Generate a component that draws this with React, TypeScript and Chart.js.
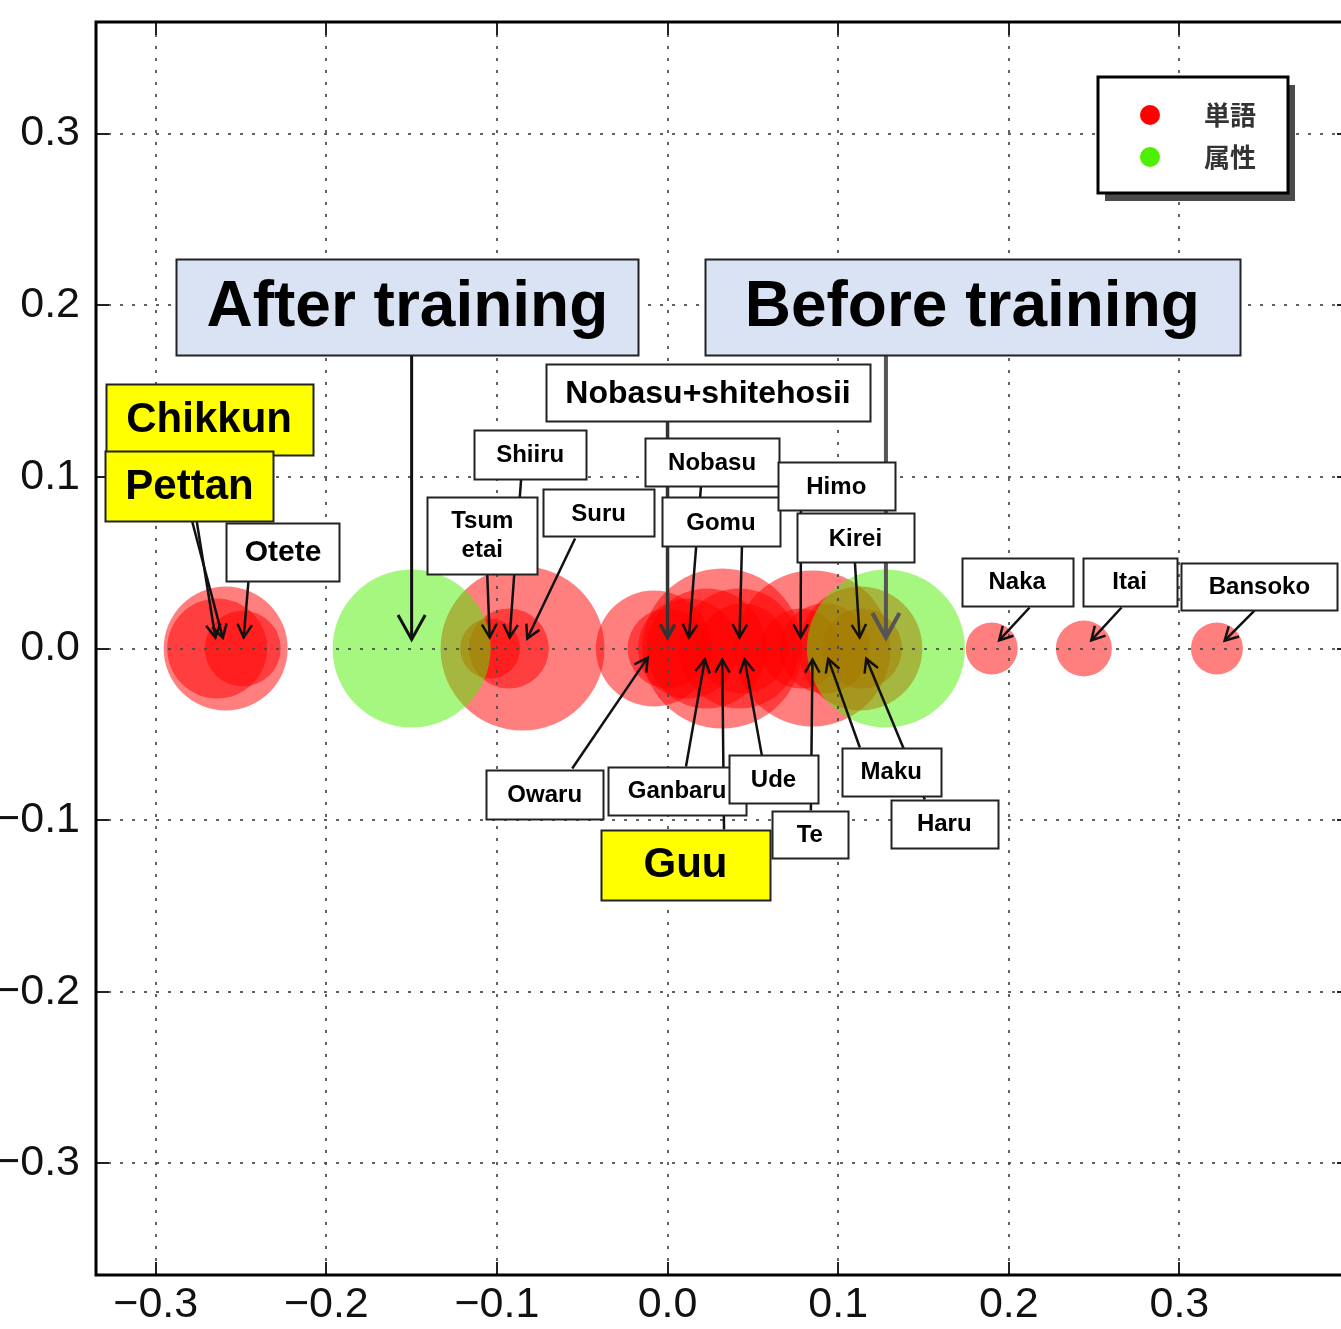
import React, { useEffect, useRef } from 'react';
import { Chart, registerables } from 'chart.js';

Chart.register(...registerables);

// ---------- data ----------
const xTicks = [-0.3, -0.2, -0.1, 0.0, 0.1, 0.2, 0.3];
const yTicks = [-0.3, -0.2, -0.1, 0.0, 0.1, 0.2, 0.3];

const seriesNames = ['単語', '属性'];

const wordLabels = [
  'Chikkun', 'Pettan', 'Otete', 'Tsumetai', 'Shiiru', 'Suru', 'Owaru',
  'Nobasu+shitehosii', 'Nobasu', 'Ganbaru', 'Guu', 'Gomu', 'Ude', 'Himo',
  'Te', 'Maku', 'Kirei', 'Haru', 'Naka', 'Itai', 'Bansoko',
];
const wordX = [
  -0.264, -0.259, -0.249, -0.104, -0.093, -0.085, -0.008,
  0.0, 0.012, 0.023, 0.032, 0.042, 0.044, 0.078,
  0.085, 0.092, 0.113, 0.114, 0.19, 0.244, 0.322,
];
const wordY = [
  0, 0, 0, 0, 0, 0, 0,
  0, 0, 0, 0, 0, 0, 0,
  0, 0, 0, 0, 0, 0, 0,
];
const wordSize = [
  50, 62, 38, 30, 40, 82, 58,
  40, 50, 60, 80, 60, 45, 40,
  78, 45, 62, 40, 26, 28, 26,
];

const attrLabels = ['After training', 'Before training'];
const attrX = [-0.15, 0.128];
const attrY = [0, 0];
const attrSize = [79, 79];

// ---------- annotation layout (box centre & arrow tail in data units) ----------
type Note = {
  text: string;
  target: string;
  box: [number, number];
  w: number;
  h: number;
  font: number;
  fill: string;
  tail: [number, number];
  kind?: 'after' | 'before' | 'thick';
};
const BLUE = '#dae3f3';
const YEL = '#ffff00';
const WHITE = '#ffffff';
const notes: Note[] = [
  { text: 'After training', target: 'After training', box: [-0.1525, 0.1987], w: 462, h: 96, font: 64, fill: BLUE, tail: [-0.15, 0.171], kind: 'after' },
  { text: 'Before training', target: 'Before training', box: [0.1786, 0.1987], w: 535, h: 96, font: 64, fill: BLUE, tail: [0.128, 0.171], kind: 'before' },
  { text: 'Nobasu+shitehosii', target: 'Nobasu+shitehosii', box: [0.0237, 0.1489], w: 324, h: 57, font: 32, fill: WHITE, tail: [0.0, 0.1323], kind: 'thick' },
  { text: 'Shiiru', target: 'Shiiru', box: [-0.0805, 0.1133], w: 112, h: 49, font: 24, fill: WHITE, tail: [-0.0858, 0.0991] },
  { text: 'Tsum\netai', target: 'Tsumetai', box: [-0.1086, 0.0661], w: 110, h: 77, font: 24, fill: WHITE, tail: [-0.1057, 0.0437] },
  { text: 'Suru', target: 'Suru', box: [-0.0404, 0.079], w: 111, h: 47, font: 24, fill: WHITE, tail: [-0.0542, 0.0641] },
  { text: 'Nobasu', target: 'Nobasu', box: [0.0261, 0.1084], w: 134, h: 48, font: 24, fill: WHITE, tail: [0.0196, 0.0944] },
  { text: 'Gomu', target: 'Gomu', box: [0.0313, 0.0737], w: 118, h: 49, font: 24, fill: WHITE, tail: [0.0436, 0.0594] },
  { text: 'Himo', target: 'Himo', box: [0.0989, 0.0944], w: 117, h: 48, font: 24, fill: WHITE, tail: [0.0782, 0.0804] },
  { text: 'Kirei', target: 'Kirei', box: [0.1101, 0.0644], w: 117, h: 49, font: 24, fill: WHITE, tail: [0.1098, 0.0501] },
  { text: 'Chikkun', target: 'Chikkun', box: [-0.2687, 0.1332], w: 207, h: 71, font: 42, fill: YEL, tail: [-0.2822, 0.1127] },
  { text: 'Pettan', target: 'Pettan', box: [-0.2802, 0.0944], w: 168, h: 70, font: 42, fill: YEL, tail: [-0.2787, 0.0743] },
  { text: 'Otete', target: 'Otete', box: [-0.2254, 0.0565], w: 113, h: 58, font: 30, fill: WHITE, tail: [-0.2456, 0.0396] },
  { text: 'Naka', target: 'Naka', box: [0.2049, 0.039], w: 111, h: 48, font: 24, fill: WHITE, tail: [0.2122, 0.0239] },
  { text: 'Itai', target: 'Itai', box: [0.2708, 0.039], w: 94, h: 48, font: 24, fill: WHITE, tail: [0.2661, 0.0239] },
  { text: 'Bansoko', target: 'Bansoko', box: [0.3469, 0.0364], w: 156, h: 47, font: 24, fill: WHITE, tail: [0.344, 0.0221] },
  { text: 'Owaru', target: 'Owaru', box: [-0.072, -0.0848], w: 117, h: 49, font: 24, fill: WHITE, tail: [-0.0559, -0.0699] },
  { text: 'Ganbaru', target: 'Ganbaru', box: [0.0056, -0.0828], w: 138, h: 48, font: 24, fill: WHITE, tail: [0.0108, -0.0688] },
  { text: 'Ude', target: 'Ude', box: [0.0621, -0.0763], w: 89, h: 48, font: 24, fill: WHITE, tail: [0.0553, -0.0624] },
  { text: 'Guu', target: 'Guu', box: [0.0105, -0.1259], w: 169, h: 70, font: 42, fill: YEL, tail: [0.0331, -0.1055] },
  { text: 'Te', target: 'Te', box: [0.0834, -0.1081], w: 76, h: 47, font: 24, fill: WHITE, tail: [0.084, -0.0944] },
  { text: 'Maku', target: 'Maku', box: [0.1311, -0.0717], w: 99, h: 48, font: 24, fill: WHITE, tail: [0.1127, -0.0577] },
  { text: 'Haru', target: 'Haru', box: [0.1622, -0.102], w: 107, h: 48, font: 24, fill: WHITE, tail: [0.1508, -0.088] },
];

// ---------- styles ----------
const RED_SOLID = 'rgb(255,0,0)';
const GREEN_SOLID = 'rgb(77,240,0)';
const RED_FILL = 'rgba(255,0,0,0.5)';
const GREEN_FILL = 'rgba(77,240,0,0.5)';
const LABEL_FONT = '"Liberation Sans", Arial, Helvetica, sans-serif';

function fmt(v: number | string): string {
  const n = Number(v);
  if (Math.abs(n) < 1e-9) return '0.0';
  return (n < 0 ? '\u2212' : '') + Math.abs(n).toFixed(1);
}

function findPoint(name: string): [number, number] {
  const i = wordLabels.indexOf(name);
  if (i >= 0) return [wordX[i], wordY[i]];
  const j = attrLabels.indexOf(name);
  return [attrX[j], attrY[j]];
}

function drawArrow(ctx: CanvasRenderingContext2D, tx: number, ty: number, px: number, py: number, shrink: number, head: number, color: string, lw: number) {
  const dx = px - tx;
  const dy = py - ty;
  const len = Math.hypot(dx, dy);
  const ux = dx / len;
  const uy = dy / len;
  const ex = px - ux * shrink;
  const ey = py - uy * shrink;
  ctx.save();
  ctx.strokeStyle = color;
  ctx.lineWidth = lw;
  ctx.lineCap = 'butt';
  ctx.lineJoin = 'miter';
  ctx.beginPath();
  ctx.moveTo(tx, ty);
  ctx.lineTo(ex, ey);
  ctx.stroke();
  const ang = Math.atan2(uy, ux);
  const a = (29 * Math.PI) / 180;
  ctx.beginPath();
  ctx.moveTo(ex - head * Math.cos(ang - a), ey - head * Math.sin(ang - a));
  ctx.lineTo(ex, ey);
  ctx.lineTo(ex - head * Math.cos(ang + a), ey - head * Math.sin(ang + a));
  ctx.stroke();
  ctx.restore();
}

const overlay = {
  id: 'overlay',
  afterDatasetsDraw(chart: any) {
    const { ctx, chartArea: a, scales } = chart;
    const xs = scales.x;
    const ys = scales.y;
    ctx.save();
    // dotted grid on top of the bubbles
    ctx.strokeStyle = 'rgba(70,70,70,0.85)';
    ctx.lineWidth = 2;
    ctx.setLineDash([3, 9]);
    xTicks.forEach((v) => {
      const p = Math.round(xs.getPixelForValue(v));
      ctx.beginPath();
      ctx.moveTo(p, a.top);
      ctx.lineTo(p, a.bottom);
      ctx.stroke();
    });
    yTicks.forEach((v) => {
      const p = Math.round(ys.getPixelForValue(v));
      ctx.beginPath();
      ctx.moveTo(a.left, p);
      ctx.lineTo(a.right, p);
      ctx.stroke();
    });
    ctx.setLineDash([]);
    // inward ticks on all four sides
    ctx.strokeStyle = '#222';
    ctx.lineWidth = 2;
    const tl = 13;
    xTicks.forEach((v) => {
      const p = Math.round(xs.getPixelForValue(v));
      ctx.beginPath();
      ctx.moveTo(p, a.bottom);
      ctx.lineTo(p, a.bottom - tl);
      ctx.moveTo(p, a.top);
      ctx.lineTo(p, a.top + tl);
      ctx.stroke();
    });
    yTicks.forEach((v) => {
      const p = Math.round(ys.getPixelForValue(v));
      ctx.beginPath();
      ctx.moveTo(a.left, p);
      ctx.lineTo(a.left + tl, p);
      ctx.moveTo(a.right, p);
      ctx.lineTo(a.right - tl, p);
      ctx.stroke();
    });
    // frame
    ctx.strokeStyle = '#000';
    ctx.lineWidth = 3;
    ctx.strokeRect(a.left, a.top, a.right - a.left, a.bottom - a.top);
    ctx.restore();
  },
  afterDraw(chart: any) {
    const { ctx, chartArea: a, scales } = chart;
    const xs = scales.x;
    const ys = scales.y;
    ctx.save();
    // arrows first (they run behind every label box)
    notes.forEach((n) => {
      const [vx, vy] = findPoint(n.target);
      const px = xs.getPixelForValue(vx);
      const py = ys.getPixelForValue(vy);
      const tx = xs.getPixelForValue(n.tail[0]);
      const ty = ys.getPixelForValue(n.tail[1]);
      if (n.kind === 'after') drawArrow(ctx, tx, ty, px, py, 9, 28, '#111', 3);
      else if (n.kind === 'before') drawArrow(ctx, tx, ty, px, py, 11, 28, '#555', 4);
      else if (n.kind === 'thick') drawArrow(ctx, tx, ty, px, py, 11, 15, '#333', 3.5);
      else drawArrow(ctx, tx, ty, px, py, 11, 15, '#111', 2.5);
    });
    // boxes
    notes.forEach((n) => {
      const cx = xs.getPixelForValue(n.box[0]);
      const cy = ys.getPixelForValue(n.box[1]);
      const l = Math.round(cx - n.w / 2) + 0.5;
      const t = Math.round(cy - n.h / 2) + 0.5;
      ctx.fillStyle = n.fill;
      ctx.fillRect(l, t, n.w, n.h);
      ctx.strokeStyle = '#222';
      ctx.lineWidth = 2;
      ctx.strokeRect(l, t, n.w, n.h);
      ctx.fillStyle = '#000';
      ctx.font = `bold ${n.font}px ${LABEL_FONT}`;
      ctx.textAlign = 'center';
      ctx.textBaseline = 'middle';
      const lines = n.text.split('\n');
      const lh = n.font * 1.2;
      lines.forEach((s, i) => {
        const yy = cy + (i - (lines.length - 1) / 2) * lh + 1;
        ctx.fillText(s, cx, yy);
      });
    });
    // legend
    const lw = 190;
    const lhgt = 116;
    const ll = a.right - 252;
    const lt = a.top + 55;
    ctx.fillStyle = '#4a4a4a';
    ctx.fillRect(ll + 7, lt + 8, lw, lhgt);
    ctx.fillStyle = '#fff';
    ctx.fillRect(ll, lt, lw, lhgt);
    ctx.strokeStyle = '#000';
    ctx.lineWidth = 3;
    ctx.strokeRect(ll, lt, lw, lhgt);
    const colors = [RED_SOLID, GREEN_SOLID];
    seriesNames.forEach((name, i) => {
      const yy = lt + 38 + i * 42;
      ctx.fillStyle = colors[i];
      ctx.beginPath();
      ctx.arc(ll + 52, yy, 10, 0, Math.PI * 2);
      ctx.fill();
      ctx.fillStyle = '#333';
      ctx.font = 'bold 26px "Noto Sans CJK JP", "Noto Sans CJK SC", sans-serif';
      ctx.textAlign = 'left';
      ctx.textBaseline = 'middle';
      ctx.fillText(name, ll + 106, yy);
    });
    ctx.restore();
  },
};

function zeroPad(s: any) {
  s.paddingTop = 0;
  s.paddingBottom = 0;
  s.paddingLeft = 0;
  s.paddingRight = 0;
}

export default function App() {
  const ref = useRef<HTMLCanvasElement>(null);
  useEffect(() => {
    const canvas = ref.current;
    if (!canvas) return;
    const wordData = wordLabels.map((_, i) => ({ x: wordX[i], y: wordY[i], r: wordSize[i] }));
    const attrData = attrLabels.map((_, i) => ({ x: attrX[i], y: attrY[i], r: attrSize[i] }));
    const tickFont = { family: LABEL_FONT, size: 43 };
    const chart = new Chart(canvas, {
      type: 'bubble',
      data: {
        datasets: [
          { label: seriesNames[0], data: wordData, backgroundColor: RED_FILL, borderWidth: 0, order: 1 },
          { label: seriesNames[1], data: attrData, backgroundColor: GREEN_FILL, borderWidth: 0, order: 0 },
        ],
      },
      options: {
        responsive: false,
        animation: false,
        events: [],
        layout: { autoPadding: false, padding: { left: 0, right: 2, top: 22, bottom: 0 } },
        plugins: { legend: { display: false }, tooltip: { enabled: false } },
        scales: {
          x: {
            type: 'linear',
            min: -0.335,
            max: 0.4,
            afterBuildTicks: (s: any) => { s.ticks = xTicks.map((value) => ({ value })); },
            afterFit: (s: any) => { s.height = 54; zeroPad(s); },
            grid: { display: false, drawTicks: false },
            border: { display: false },
            ticks: { callback: (v: any) => fmt(v), font: tickFont, color: '#111', padding: 4, maxRotation: 0, autoSkip: false },
          },
          y: {
            type: 'linear',
            min: -0.365,
            max: 0.365,
            afterBuildTicks: (s: any) => { s.ticks = yTicks.map((value) => ({ value })); },
            afterFit: (s: any) => { s.width = 96; zeroPad(s); },
            grid: { display: false, drawTicks: false },
            border: { display: false },
            ticks: { callback: (v: any) => fmt(v), font: tickFont, color: '#111', padding: 16, autoSkip: false },
          },
        },
      } as any,
      plugins: [overlay as any],
    });
    return () => chart.destroy();
  }, []);
  return (
    <div style={{ position: 'absolute', left: 0, top: 0, width: 1341, height: 1329, overflow: 'hidden', background: '#fff' }}>
      <canvas ref={ref} width={1352} height={1329} style={{ display: 'block' }} />
    </div>
  );
}
